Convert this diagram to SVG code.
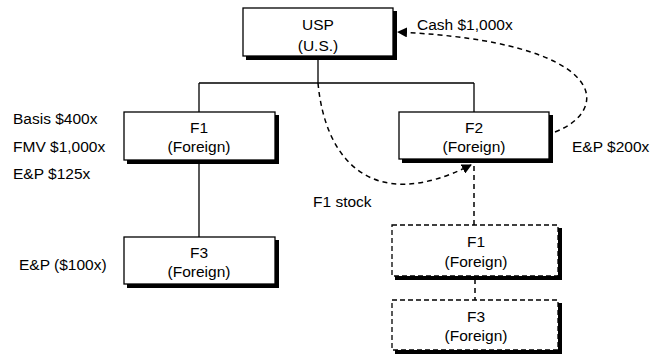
<svg xmlns="http://www.w3.org/2000/svg" width="660" height="355" viewBox="0 0 660 355">
<defs>
<style>
text{font-family:"Liberation Sans",Arial,sans-serif;font-size:15.5px;fill:#000}
.c{text-anchor:middle}
.box{fill:#fff;stroke:#000;stroke-width:1.3}
.dbox{fill:#fff;stroke:#000;stroke-width:1.3;stroke-dasharray:5,3}
.ln{fill:none;stroke:#000;stroke-width:1.3}
.dl{fill:none;stroke:#000;stroke-width:1.5;stroke-dasharray:5,4}
</style>
<marker id="ah" viewBox="0 0 10 10" refX="9" refY="5" markerWidth="10" markerHeight="10" markerUnits="userSpaceOnUse" orient="auto">
<path d="M0,0 L10,5 L0,10 Z" fill="#000"/>
</marker>
</defs>
<g id="connectors">
<path class="ln" d="M318 59 V83 M199 83 H474 M199 83 V112 M474 83 V112 M199 163 V237"/>
<path class="dl" d="M474 166 V225 M475 279 V300"/>
<path class="dl" d="M555 132 C612 110 610 42 398 32" marker-end="url(#ah)"/>
<path class="dl" d="M318 83 C325 160 372 215 471 165" marker-end="url(#ah)"/>
</g>
<g id="usp">
<rect class="box" x="243" y="8" width="150" height="48"/>
<rect x="393" y="11" width="4" height="49" fill="black"/>
<rect x="246" y="56" width="151" height="4" fill="black"/>
<text class="c" x="318" y="30">USP</text>
<text class="c" x="318" y="51">(U.S.)</text>
</g>
<g id="f1">
<rect class="box" x="124" y="112" width="151" height="48"/>
<rect x="275" y="115" width="4" height="49" fill="black"/>
<rect x="127" y="160" width="152" height="4" fill="black"/>
<text class="c" x="199" y="133">F1</text>
<text class="c" x="199" y="152">(Foreign)</text>
</g>
<g id="f2">
<rect class="box" x="399" y="112" width="150" height="47"/>
<rect x="549" y="115" width="4" height="48" fill="black"/>
<rect x="402" y="159" width="151" height="4" fill="black"/>
<text class="c" x="474" y="133">F2</text>
<text class="c" x="474" y="152">(Foreign)</text>
</g>
<g id="f3">
<rect class="box" x="124" y="237" width="151" height="47"/>
<rect x="275" y="240" width="4" height="48" fill="black"/>
<rect x="127" y="284" width="152" height="4" fill="black"/>
<text class="c" x="199" y="258">F3</text>
<text class="c" x="199" y="277">(Foreign)</text>
</g>
<g id="f1-new">
<rect class="dbox" x="392" y="225" width="166" height="51"/>
<rect x="558" y="228" width="4" height="52" fill="black"/>
<rect x="395" y="276" width="167" height="4" fill="black"/>
<text class="c" x="476" y="247">F1</text>
<text class="c" x="476" y="267">(Foreign)</text>
</g>
<g id="f3-new">
<rect class="dbox" x="392" y="300" width="166" height="50"/>
<rect x="558" y="303" width="4" height="51" fill="black"/>
<rect x="395" y="350" width="167" height="4" fill="black"/>
<text class="c" x="476" y="322">F3</text>
<text class="c" x="476" y="341">(Foreign)</text>
</g>
<g id="labels">
<text x="13" y="124">Basis $400x</text>
<text x="13" y="152">FMV $1,000x</text>
<text x="13" y="179">E&amp;P $125x</text>
<text x="19" y="270">E&amp;P ($100x)</text>
<text x="417" y="30">Cash $1,000x</text>
<text x="572" y="152">E&amp;P $200x</text>
<text x="313" y="207">F1 stock</text>
</g>
</svg>
